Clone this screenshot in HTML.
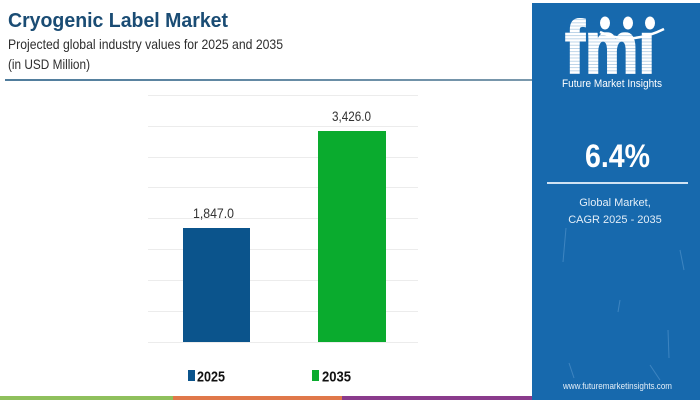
<!DOCTYPE html>
<html>
<head>
<meta charset="utf-8">
<style>
  html,body{margin:0;padding:0;background:#fff;}
  svg{display:block;}
  text{font-family:"Liberation Sans",sans-serif;}
</style>
</head>
<body>
<svg width="700" height="400" viewBox="0 0 700 400" xmlns="http://www.w3.org/2000/svg">
  <defs>
    <pattern id="stripes" width="4" height="3.2" patternUnits="userSpaceOnUse">
      <rect x="0" y="0" width="4" height="0.8" fill="#1769ad" opacity="0.35"/>
    </pattern>
    <linearGradient id="sep" x1="0" x2="1" y1="0" y2="0">
      <stop offset="0" stop-color="#4f7c9c"/>
      <stop offset="1" stop-color="#7a98ac"/>
    </linearGradient>
  </defs>
  <rect width="700" height="400" fill="#fff"/>

  <!-- Title block -->
  <text x="8" y="27" font-size="20" font-weight="bold" fill="#1a4c74" textLength="220" lengthAdjust="spacingAndGlyphs">Cryogenic Label Market</text>
  <text x="8" y="49" font-size="14" fill="#2e2e2e" textLength="275" lengthAdjust="spacingAndGlyphs">Projected global industry values for 2025 and 2035</text>
  <text x="8" y="69" font-size="14" fill="#2e2e2e" textLength="82" lengthAdjust="spacingAndGlyphs">(in USD Million)</text>
  <rect x="5" y="79" width="527" height="2" fill="url(#sep)"/>

  <!-- Gridlines -->
  <g stroke="#ececec" stroke-width="1">
    <line x1="148" y1="95.5" x2="418" y2="95.5"/>
    <line x1="148" y1="126.5" x2="418" y2="126.5"/>
    <line x1="148" y1="157.5" x2="418" y2="157.5"/>
    <line x1="148" y1="187.5" x2="418" y2="187.5"/>
    <line x1="148" y1="218.5" x2="418" y2="218.5"/>
    <line x1="148" y1="249.5" x2="418" y2="249.5"/>
    <line x1="148" y1="280.5" x2="418" y2="280.5"/>
    <line x1="148" y1="311.5" x2="418" y2="311.5"/>
    <line x1="148" y1="342.5" x2="418" y2="342.5"/>
  </g>

  <!-- Bars -->
  <rect x="183" y="228" width="67" height="114" fill="#0b548c"/>
  <rect x="318" y="131" width="68" height="211" fill="#0aab2e"/>

  <!-- Data labels -->
  <text x="193" y="218" font-size="14" fill="#333" textLength="41" lengthAdjust="spacingAndGlyphs">1,847.0</text>
  <text x="332" y="121" font-size="14" fill="#333" textLength="39" lengthAdjust="spacingAndGlyphs">3,426.0</text>

  <!-- Legend -->
  <rect x="188" y="370" width="7" height="11" fill="#0b548c"/>
  <text x="197" y="381.5" font-size="15" font-weight="bold" fill="#111" textLength="28" lengthAdjust="spacingAndGlyphs">2025</text>
  <rect x="312" y="370" width="7" height="11" fill="#0aab2e"/>
  <text x="322" y="381.5" font-size="15" font-weight="bold" fill="#111" textLength="29" lengthAdjust="spacingAndGlyphs">2035</text>

  <!-- Bottom stripe -->
  <rect x="0" y="396" width="173" height="4" fill="#8fc05c"/>
  <rect x="173" y="396" width="169" height="4" fill="#e0784a"/>
  <rect x="342" y="396" width="190" height="4" fill="#8a3b8c"/>

  <!-- Right panel -->
  <rect x="532" y="3" width="168" height="397" fill="#1769ad"/>
  <!-- faint decorative lines -->
  <g stroke="#5d9bd0" stroke-width="1" opacity="0.55">
    <line x1="566" y1="228" x2="563" y2="262"/>
    <line x1="668" y1="330" x2="669" y2="358"/>
    <line x1="569" y1="363" x2="574" y2="378"/>
    <line x1="650" y1="365" x2="660" y2="380"/>
    <line x1="620" y1="300" x2="618" y2="312"/>
    <line x1="680" y1="250" x2="684" y2="270"/>
  </g>

  <!-- fmi logo -->
  <text x="565" y="73" font-family="Liberation Serif, serif" font-size="74" font-weight="bold" fill="#fff" stroke="#fff" stroke-width="2" textLength="90" lengthAdjust="spacingAndGlyphs">fmı</text>
  <rect x="562" y="18" width="98" height="57" fill="url(#stripes)"/>
  <ellipse cx="605" cy="23" rx="5" ry="6.5" fill="#fff"/>
  <ellipse cx="628" cy="23" rx="5" ry="6.5" fill="#fff"/>
  <ellipse cx="650" cy="23" rx="5" ry="6.5" fill="#fff"/>
  <path d="M600 32 Q630 46 664 29" stroke="#fff" stroke-width="2.5" fill="none"/>
  <text x="562" y="87" font-size="11" fill="#fff" textLength="100" lengthAdjust="spacingAndGlyphs">Future Market Insights</text>

  <!-- CAGR -->
  <text x="585" y="167" font-size="32" font-weight="bold" fill="#fff" textLength="65" lengthAdjust="spacingAndGlyphs">6.4%</text>
  <rect x="547" y="182" width="141" height="2" fill="#cfe2f3"/>
  <text x="615" y="206" font-size="11" fill="#e3eef8" text-anchor="middle">Global Market,</text>
  <text x="615" y="223" font-size="11" fill="#e3eef8" text-anchor="middle">CAGR 2025 - 2035</text>

  <text x="563" y="389" font-size="9.5" fill="#e3eef8" textLength="109" lengthAdjust="spacingAndGlyphs">www.futuremarketinsights.com</text>
</svg>
</body>
</html>
